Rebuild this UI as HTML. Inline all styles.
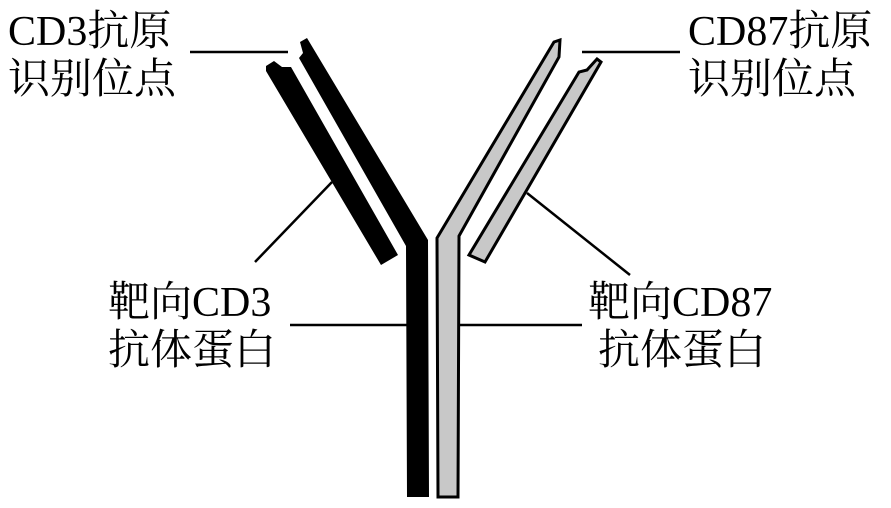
<!DOCTYPE html>
<html><head><meta charset="utf-8"><style>
html,body{margin:0;padding:0;background:#fff;width:891px;height:508px;overflow:hidden}
.t{position:absolute;font-family:"Liberation Serif","Noto Serif CJK SC",serif;font-size:42px;line-height:48px;color:#000;white-space:nowrap}
</style></head><body>
<svg width="891" height="508" style="position:absolute;left:0;top:0">
<g stroke="#000" stroke-width="2.5" fill="none">
<line x1="190" y1="52" x2="288" y2="52"/>
<line x1="582" y1="52" x2="680" y2="52"/>
<line x1="332" y1="182" x2="255" y2="262"/>
<line x1="527" y1="193" x2="630" y2="275"/>
<line x1="290" y1="325" x2="410" y2="325"/>
<line x1="457" y1="325" x2="582" y2="325"/>
</g>
<polygon fill="#000" points="300,42 307,38 428,240 429,497 407,497 406,246 299,58 303,53"/>
<polygon fill="#000" points="266,66 274,61 282,67 291,67 398,255 381,265 266,71"/>
<polygon fill="#c8c8c8" stroke="#000" stroke-width="3" points="554,42 560,40 559,57 459,236 458,497 438,497 437,238"/>
<polygon fill="#c8c8c8" stroke="#000" stroke-width="3" points="597,59 601,62 485,262 469,255 579,72 587,70"/>
</svg>
<div class="t" style="left:8px;top:8px">CD3抗原<br>识别位点</div>
<div class="t" style="left:688px;top:8px">CD87抗原<br>识别位点</div>
<div class="t" style="left:108px;top:279px">靶向CD3<br>抗体蛋白</div>
<div class="t" style="left:588px;top:279px">靶向CD87<br><span style="margin-left:10px">抗体蛋白</span></div>
</body></html>
